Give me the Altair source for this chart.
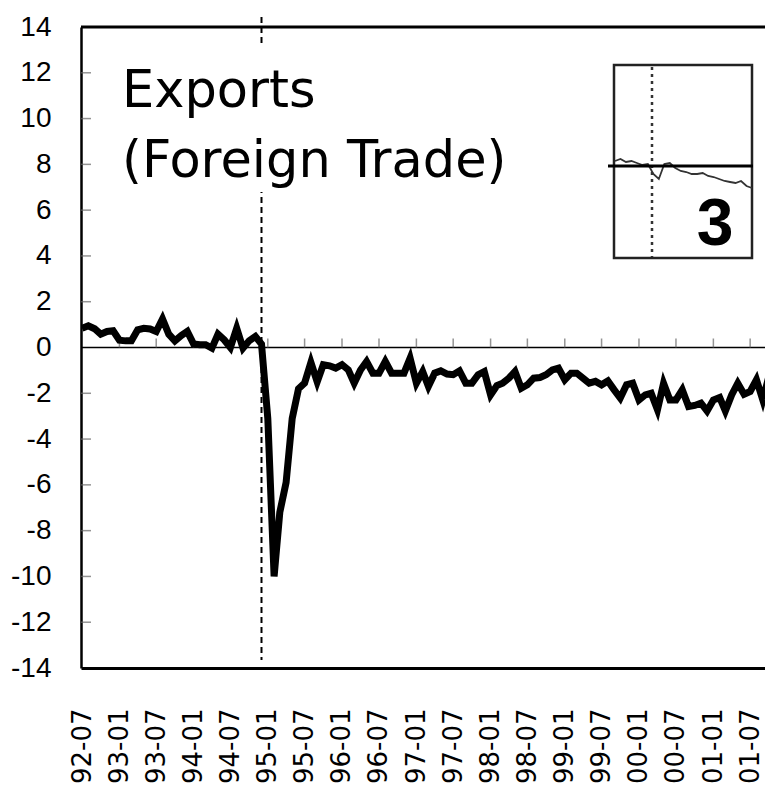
import altair as alt
import pandas as pd

# ---------------- data ----------------
start_month = "1992-07-01"
values = [
    0.84, 0.95, 0.82, 0.58, 0.70, 0.73, 0.32, 0.29, 0.29, 0.77,
    0.84, 0.81, 0.70, 1.25, 0.58, 0.29, 0.52, 0.70, 0.15, 0.12,
    0.12, -0.03, 0.58, 0.33, 0.00, 0.84, -0.03, 0.29, 0.48, 0.15,
    -3.1, -10.0, -7.2, -5.9, -3.1, -1.8, -1.55, -0.65, -1.5, -0.75,
    -0.8, -0.9, -0.75, -0.98, -1.56, -0.98, -0.61, -1.12, -1.12, -0.61,
    -1.12, -1.12, -1.12, -0.47, -1.56, -1.05, -1.7, -1.12, -1.02, -1.16,
    -1.19, -1.02, -1.56, -1.56, -1.19, -1.05, -2.07, -1.66, -1.56, -1.34,
    -1.05, -1.78, -1.63, -1.34, -1.31, -1.19, -0.98, -0.9, -1.41, -1.12,
    -1.12, -1.34, -1.56, -1.48, -1.63, -1.46, -1.85, -2.21, -1.63, -1.56,
    -2.29, -2.07, -2.0, -2.72, -1.56, -2.29, -2.29, -1.85, -2.58, -2.53,
    -2.43, -2.77, -2.29, -2.18, -2.77, -2.07, -1.56, -2.04, -1.92, -1.41,
    -2.29, -1.27, -1.19,
]
dates = pd.date_range(start_month, periods=len(values), freq="MS").strftime("%Y-%m-%d").tolist()

event_date = ["1994-12-01"]
y_ticks = [-14, -12, -10, -8, -6, -4, -2, 0, 2, 4, 6, 8, 10, 12, 14]
inner_y_ticks = [-12, -10, -8, -6, -4, -2, 2, 4, 6, 8, 10, 12]
label_months = [(1992, 7)] + [(y, m) for y in range(1993, 2002) for m in (1, 7)]
inner_x_ticks = [f"{y}-{m:02d}-01" for (y, m) in label_months[1:]]
title_text = ["Exports\n(Foreign Trade)"]
inset_label = ["3"]
inset_values = [5, 7, 4, 5, 3, 1, 2, -8, -13, 2, 3, -2, -5, -6, -8, -8, -7,
                -10, -11, -13, -15, -16, -17, -15, -20, -22]

df = pd.DataFrame({"date": dates, "value": values})
W, H = 684, 641
YFONT = "Liberation Sans, Arial, sans-serif"
NARROW = "Liberation Sans Narrow, Liberation Sans, Arial, sans-serif"

def xs():
    return alt.Scale(domain=[alt.DateTime(year=1992, month=6, date=26),
                             alt.DateTime(year=2001, month=9, date=12)])

def ys():
    return alt.Scale(domain=[-14, 14], nice=False, zero=False)

x_axis = alt.Axis(
    values=[alt.DateTime(year=y, month=m, date=1) for (y, m) in label_months],
    format="%y-%m", formatType="time", labelAngle=270,
    labelFont="DejaVu Sans", labelFontSize=26, labelColor="black",
    labelPadding=40, ticks=False, tickSize=0, grid=False, title=None,
    domainColor="black", domainWidth=3, labelOverlap=False, labelFlush=False,
)
y_axis = alt.Axis(
    values=y_ticks, labelFont=YFONT,
    labelExpr="datum.value < 0 ? '-' + abs(datum.value) : '' + datum.value",
    labelFontSize=28, labelColor="black", labelPadding=30, ticks=False, tickSize=0,
    grid=False, title=None, domainColor="black", domainWidth=2.5,
)

line = alt.Chart(df).mark_line(color="black", strokeWidth=7, clip=True).encode(
    x=alt.X("date:T", scale=xs(), axis=x_axis),
    y=alt.Y("value:Q", scale=ys(), axis=y_axis),
)

dashed = alt.Chart(pd.DataFrame({"date": event_date})).mark_rule(
    color="black", strokeWidth=2, strokeDash=[6, 4]
).encode(x=alt.X("date:T", scale=xs(), axis=None), y=alt.value(-10), y2=alt.value(633))

zero_line = alt.Chart(pd.DataFrame({"v": [0]})).mark_rule(color="black", strokeWidth=1.5).encode(
    y=alt.Y("v:Q", scale=ys(), axis=None)
)
top_line = alt.Chart(pd.DataFrame({"v": [14]})).mark_rule(color="black", strokeWidth=3).encode(
    y=alt.Y("v:Q", scale=ys(), axis=None)
)

xticks = alt.Chart(pd.DataFrame({"date": inner_x_ticks, "v": [0] * len(inner_x_ticks)})).mark_tick(
    orient="vertical", color="#666", thickness=1.5, size=9, yOffset=-4.5
).encode(x=alt.X("date:T", scale=xs(), axis=None), y=alt.Y("v:Q", scale=ys(), axis=None))

yticks = alt.Chart(pd.DataFrame({"v": inner_y_ticks})).mark_tick(
    orient="horizontal", color="#666", thickness=1.5, size=10
).encode(y=alt.Y("v:Q", scale=ys(), axis=None), x=alt.value(5))

title_bg = alt.Chart(pd.DataFrame({"t": title_text})).mark_rect(fill="white").encode(
    x=alt.value(29), x2=alt.value(439), y=alt.value(18), y2=alt.value(165)
)
title = alt.Chart(pd.DataFrame({"t": title_text})).mark_text(
    font="DejaVu Sans", fontSize=51, align="left", baseline="alphabetic",
    lineBreak="\n", lineHeight=70, color="black"
).encode(text="t:N", x=alt.value(41), y=alt.value(80))

# ---------------- inset thumbnail ----------------
inset_frame = alt.Chart(pd.DataFrame({"t": inset_label})).mark_rect(
    fill="white", stroke="#222", strokeWidth=2.5
).encode(x=alt.value(533), x2=alt.value(671), y=alt.value(38), y2=alt.value(231))

inset_dotted = alt.Chart(pd.DataFrame({"t": inset_label})).mark_rule(
    color="#333", strokeWidth=2.5, strokeDash=[3, 4]
).encode(x=alt.value(571), y=alt.value(40), y2=alt.value(230))

inset_line = alt.Chart(pd.DataFrame({"i": list(range(len(inset_values))), "v": inset_values})).mark_line(
    color="#333", strokeWidth=1.8
).encode(
    x=alt.X("i:Q", scale=alt.Scale(domain=[0, len(inset_values) - 1], range=[534, 671]), axis=None),
    y=alt.Y("v:Q", scale=alt.Scale(domain=[-30, 30], range=[169, 109]), axis=None),
)

inset_hline = alt.Chart(pd.DataFrame({"t": inset_label})).mark_rule(
    color="black", strokeWidth=3
).encode(x=alt.value(527), x2=alt.value(672), y=alt.value(139))

inset_text = alt.Chart(pd.DataFrame({"t": inset_label})).mark_text(
    font=NARROW, fontWeight="bold",
    fontSize=66, align="center", baseline="alphabetic", color="black"
).encode(text="t:N", x=alt.value(634), y=alt.value(218))

chart = alt.layer(
    dashed, zero_line, top_line, xticks, yticks, line, title_bg, title,
    inset_frame, inset_dotted, inset_line, inset_hline, inset_text,
).resolve_scale(x="independent", y="independent").properties(
    width=W, height=H,
    autosize=alt.AutoSizeParams(type="none"),
    padding={"left": 73, "top": 19, "right": 0, "bottom": 135},
    background="white",
).configure_view(stroke=None)

chart.save("out.html", embed_options={"renderer": "svg", "actions": False})
